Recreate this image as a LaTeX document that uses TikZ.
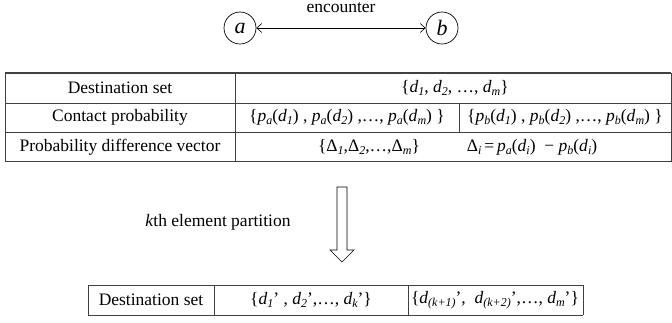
\documentclass[tikz,border=0pt]{standalone}
\usepackage{fontspec}
\setmainfont{Liberation Serif}
\usetikzlibrary{arrows.meta}
% italic variable with lowered italic index
\newcommand{\vv}[1]{\textit{#1}}
\newcommand{\lo}[1]{\raisebox{-0.4ex}{\fontsize{12}{12}\selectfont\itshape #1}}
\newcommand{\De}{\textup{Δ}}
\begin{document}
\begin{tikzpicture}[x=1pt,y=-1pt,
  txt/.style={inner sep=0pt,font=\fontsize{17.5}{21}\selectfont},
  rule/.style={line width=0.9pt,draw=black!75},
  vert/.style={circle,draw,line width=0.7pt,minimum size=32pt,inner sep=0pt,font=\fontsize{22}{24}\selectfont\itshape}]
\useasboundingbox (0,0) rectangle (672,322);

% the two encountering nodes
\node[vert] (a) at (240,28) {a};
\node[vert] (b) at (442,28) {b};
\draw[line width=0.6pt,{Straight Barb[length=5pt,width=9pt]}-{Straight Barb[length=5pt,width=9pt]}] (a) -- (b);
\node[txt] (enc) at (341,8) {encounter};

% upper table
\draw[rule,line width=1.1pt] (5,73) -- (671,73);
\draw[rule] (5,103) -- (671,103);
\draw[rule] (5,132) -- (671,132);
\draw[rule,line width=1.1pt] (5,161.5) -- (671,161.5);
\draw[rule] (5,73) -- (5,161.5);
\draw[rule] (671,73) -- (671,161.5);
\draw[rule] (235,73) -- (235,161.5);
\draw[rule] (459,103) -- (459,132);

\node[txt] (h1) at (120,88) {Destination set};
\node[txt] (h2) at (120,117.5) {Contact probability};
\node[txt] (h3) at (120,147) {Probability difference vector};

\node[txt] (dset) at (455,88) {\{\vv{d}\lo{1}, \vv{d}\lo{2}, …, \vv{d}\lo{m}\}};
\node[txt] (pa) at (347,117.5) {\{\vv{p}\lo{a}(\vv{d}\lo{1}) , \vv{p}\lo{a}(\vv{d}\lo{2}) ,…, \vv{p}\lo{a}(\vv{d}\lo{m}) \}};
\node[txt] (pb) at (565,117.5) {\{\vv{p}\lo{b}(\vv{d}\lo{1}) , \vv{p}\lo{b}(\vv{d}\lo{2}) ,…, \vv{p}\lo{b}(\vv{d}\lo{m}) \}};
\node[txt] (dv) at (369,147) {\{\De\lo{1},\De\lo{2},…,\De\lo{m}\}};
\node[txt] (di) at (532,147) {\De\lo{i}\,=\,\vv{p}\lo{a}(\vv{d}\lo{i})~ − \vv{p}\lo{b}(\vv{d}\lo{i})};

% hollow partition arrow
\draw[line width=0.6pt] (337,187) -- (347,187) -- (347,250) -- (354,250) -- (342,262)
  -- (330,250) -- (337,250) -- cycle;
\node[txt] (part) at (218,222) {\vv{k}th element partition};

% lower table
\draw[rule] (88,285) -- (583,285);
\draw[rule] (88,315) -- (583,315);
\draw[rule] (88,285) -- (88,315);
\draw[rule] (583,285) -- (583,315);
\draw[rule] (214,285) -- (214,315);
\draw[rule] (408,285) -- (408,315);

\node[txt] (h4) at (151,300) {Destination set};
\node[txt] (lo1) at (311,300) {\{\vv{d}\lo{1}’ , \vv{d}\lo{2}’,…, \vv{d}\lo{k}’\}};
\node[txt] (lo2) at (495,300) {\{\vv{d}\lo{(k+1)}’,~ \vv{d}\lo{(k+2)}’,…, \vv{d}\lo{m}’\}};
\end{tikzpicture}
\end{document}
